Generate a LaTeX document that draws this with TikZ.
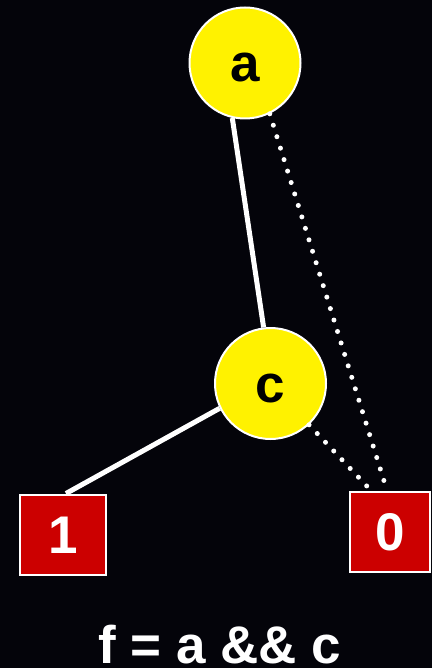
\documentclass[tikz,border=0pt]{standalone}
\usepackage{fontspec}
\setmainfont{Liberation Sans}
\definecolor{bgblack}{RGB}{4,4,10}
\definecolor{leafred}{RGB}{204,0,0}

\tikzset{
  big/.style={font=\fontsize{53}{60}\selectfont\bfseries},
  var/.style={circle, fill=yellow, draw=white, line width=2pt, minimum size=111pt,
    inner sep=0pt, big, text height=37pt, text depth=0pt},
  leaf/.style={rectangle, fill=leafred, draw=white, line width=2pt, minimum height=80pt,
    inner sep=0pt, text=white, big, text height=37pt, text depth=0pt},
  hi/.style={draw=white, line width=5pt},
  lo/.style={draw=white, line width=5pt, line cap=round, dash pattern=on 0pt off 12pt},
}

\begin{document}
\begin{tikzpicture}[x=1pt, y=-1pt]
\fill[bgblack] (0,0) rectangle (432,668);
\useasboundingbox (0,0) rectangle (432,668);

% decision nodes
\node[var] (a) at (245,63) {a};
\node[var] (c) at (270.5,383.5) {c};
% terminals
\node[leaf, minimum width=86pt] (one) at (63,534.5) {1};
\node[leaf, minimum width=80pt] (zero) at (390,531.5) {0};

% then / else edges
\draw[hi] (a.257) -- (c.97);
\draw[lo] (a.296) -- ([xshift=-3pt]zero.north);
\draw[hi] (c.206) -- ([xshift=3pt]one.north);
\draw[lo] (c.313) -- ([xshift=-19pt]zero.north);

\node[text=white, big, anchor=base, inner sep=0pt, text depth=0pt] (f) at (220,663) {f = a \&\& c};
\end{tikzpicture}
\end{document}
